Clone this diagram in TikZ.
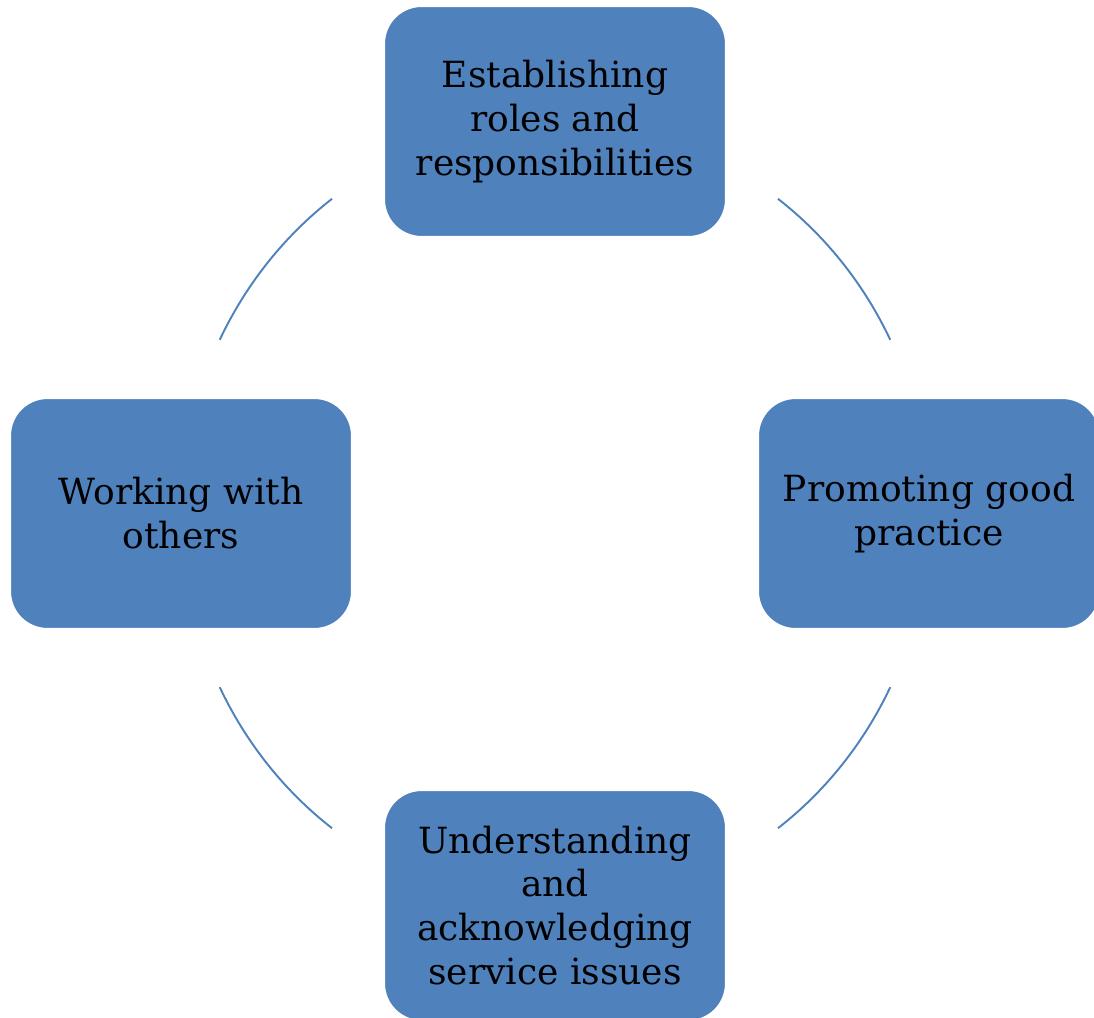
\documentclass[tikz,border=0pt]{standalone}
\usepackage{fontspec}
\setmainfont{DejaVu Serif}
\usepackage{tikz}
\definecolor{boxblue}{RGB}{79,129,189}
\tikzstyle{stage} = [rectangle, rounded corners=0.75cm, minimum width=6.84cm, minimum height=4.62cm, text centered, align=center, draw=white, line width=1.2pt, fill=boxblue, text=black, font=\fontsize{20.5}{25}\selectfont]
\tikzstyle{cycline} = [draw=boxblue, line width=1.1pt]

\begin{document}
\begin{tikzpicture}
        \useasboundingbox (-11.1,-10.07) rectangle (10.78,10.27);
        \coordinate (ctr) at (0,0);
        \node (roles) [stage] at (0,7.84) {Establishing\\roles and\\responsibilities};
        \node (practice) [stage] at (7.48,0) {Promoting good\\practice};
        \node (issues) [stage] at (0,-7.84) {Understanding\\and\\acknowledging\\service issues};
        \node (others) [stage] at (-7.48,0) {Working with\\others};

        \draw [cycline] ([shift={(53.4:7.48cm and 7.84cm)}]ctr) arc[start angle=53.4, end angle=26.3, x radius=7.48cm, y radius=7.84cm];
        \draw [cycline] ([shift={(-26.3:7.48cm and 7.84cm)}]ctr) arc[start angle=-26.3, end angle=-53.4, x radius=7.48cm, y radius=7.84cm];
        \draw [cycline] ([shift={(-126.6:7.48cm and 7.84cm)}]ctr) arc[start angle=-126.6, end angle=-153.7, x radius=7.48cm, y radius=7.84cm];
        \draw [cycline] ([shift={(153.7:7.48cm and 7.84cm)}]ctr) arc[start angle=153.7, end angle=126.6, x radius=7.48cm, y radius=7.84cm];
    \end{tikzpicture}
\end{document}
